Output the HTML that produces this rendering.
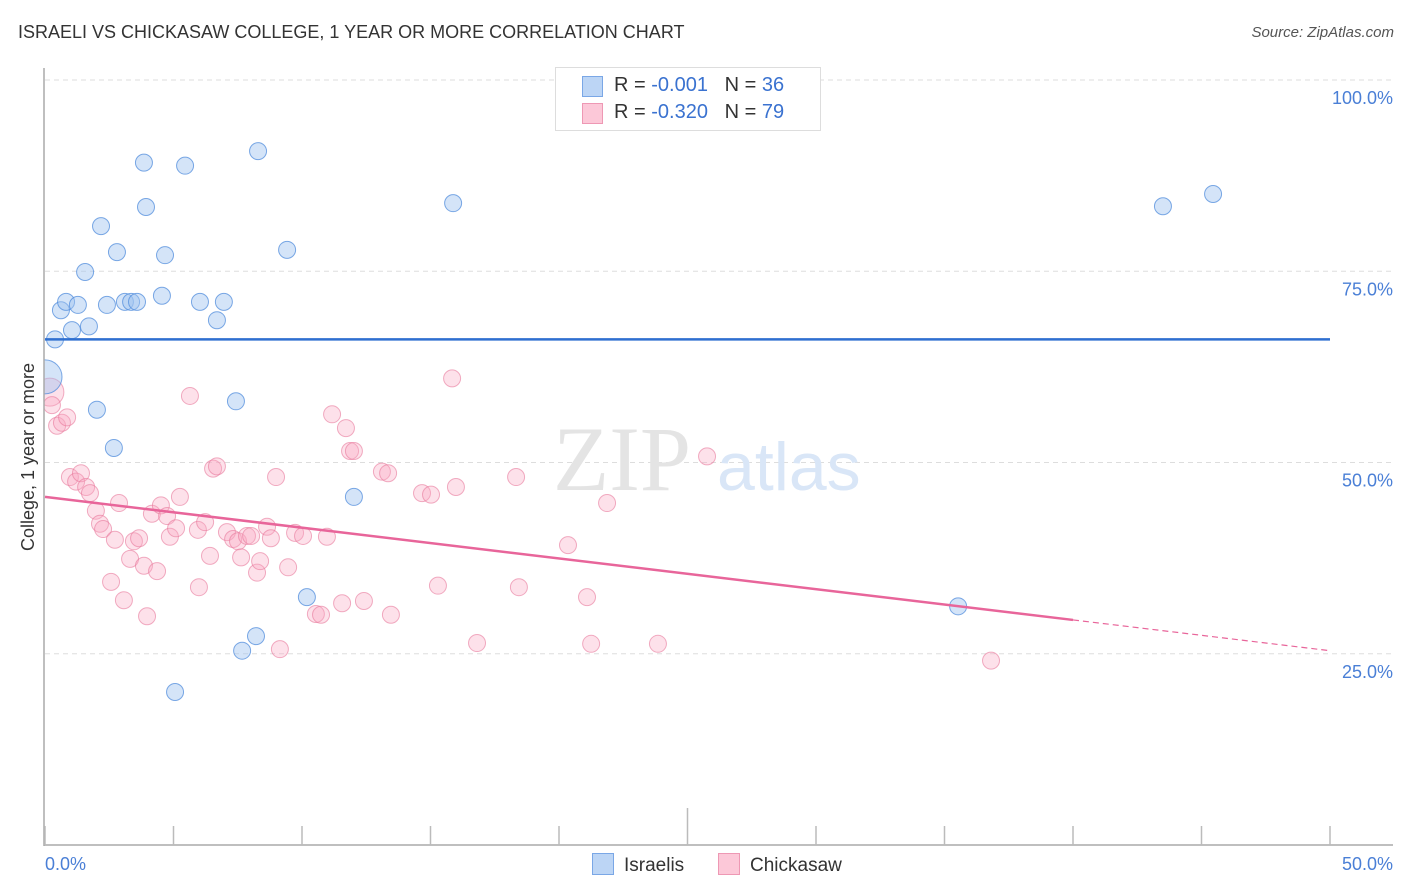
<!DOCTYPE html>
<html><head><meta charset="utf-8">
<style>
body{margin:0;background:#fff;font-family:"Liberation Sans",sans-serif;}
#wrap{position:relative;width:1406px;height:892px;overflow:hidden;}
.t{position:absolute;white-space:nowrap;}
</style></head>
<body>
<div id="wrap">
<div class="t" style="left:18px;top:22px;font-size:18px;color:#333;">ISRAELI VS CHICKASAW COLLEGE, 1 YEAR OR MORE CORRELATION CHART</div>
<div class="t" style="right:12px;top:24px;font-size:15px;color:#555;font-style:italic;">Source: ZipAtlas.com</div>
<svg id="svg" width="1406" height="892" style="position:absolute;left:0;top:0;"></svg>
</div>
<script>
const blueX=[0.39,0,0.62,0.82,1.05,1.28,1.56,1.71,2.02,2.18,2.41,2.68,2.80,3.11,3.35,3.58,3.85,3.93,4.55,4.67,5.06,5.45,6.03,6.69,6.96,7.43,7.67,8.21,8.29,9.42,10.19,12.02,15.88,35.53,43.50,45.45];
const blueY=[66.1,61.2,69.9,71.0,67.3,70.6,74.9,67.8,56.9,80.9,70.6,51.9,77.5,71.0,71.0,71.0,89.2,83.4,71.8,77.1,20.0,88.8,71.0,68.6,71.0,58.0,25.4,27.3,90.7,77.8,32.4,45.5,83.9,31.2,83.5,85.1];
const pinkX=[0.19,0.27,0.47,0.66,0.86,0.97,1.21,1.40,1.60,1.75,1.98,2.14,2.26,2.57,2.72,2.88,3.07,3.31,3.46,3.66,3.85,3.97,4.16,4.36,4.51,4.75,4.86,5.10,5.25,5.99,5.64,5.95,6.23,6.42,6.54,6.69,7.08,7.32,7.51,7.63,7.86,8.02,8.25,8.37,8.64,8.79,8.99,9.14,9.46,9.73,10.04,10.54,10.74,10.97,11.17,11.56,11.71,11.87,12.02,12.41,13.11,13.35,13.46,14.67,15.02,15.29,15.84,15.99,16.81,18.33,18.44,20.35,21.09,21.25,21.87,23.85,25.76,36.81];
const pinkY=[59.2,57.5,54.8,55.2,55.9,48.1,47.5,48.6,46.8,46.0,43.7,42.0,41.3,34.4,39.9,44.7,32.0,37.4,39.7,40.1,36.5,29.9,43.3,35.8,44.4,43.0,40.3,41.4,45.5,33.7,58.7,41.2,42.2,37.8,49.2,49.5,40.9,40.0,39.7,37.6,40.4,40.4,35.6,37.1,41.6,40.1,48.1,25.6,36.3,40.8,40.4,30.2,30.1,40.3,56.3,31.6,54.5,51.5,51.5,31.9,48.8,48.6,30.1,46.0,45.8,33.9,61.0,46.8,26.4,48.1,33.7,39.2,32.4,26.3,44.7,26.3,50.8,24.1];
const yTicks=[100,75,50,25];
const yTickLabels=["100.0%","75.0%","50.0%","25.0%"];
const xTickLabels=["0.0%","50.0%"];
const blueTrend=[66.1,66.1];
const pinkTrend=[45.5,25.4];

const NS="http://www.w3.org/2000/svg";
const svg=document.getElementById('svg');
const X=v=>45+v*25.7;
const Y=v=>845-v*7.65;
function el(t,a){const e=document.createElementNS(NS,t);for(const k in a)e.setAttribute(k,a[k]);svg.appendChild(e);return e;}

yTicks.forEach((v,i)=>{
  const g=el('line',{x1:45,x2:1393,y1:Y(v),y2:Y(v),stroke:'#ddd','stroke-dasharray':'5,4'});
  
  
  const t=el('text',{x:1393,y:Y(v)+24,'text-anchor':'end','font-size':18,fill:'#4a7fd6','font-family':'Liberation Sans'});
  t.textContent=yTickLabels[i];
  
  
});
const wm=el('text',{x:553,y:490,'font-size':92,fill:'#e4e4e4','font-family':'Liberation Serif'});wm.textContent='ZIP';


const wm2=el('text',{x:717,y:490,'font-size':68,fill:'#d9e6f7','font-family':'Liberation Sans'});wm2.textContent='atlas';



pinkX.forEach((x,i)=>{
  const c=el('circle',{cx:X(x),cy:Y(pinkY[i]),r:i==0?14:8.5,fill:'rgba(248,170,195,0.35)',stroke:'rgba(232,120,155,0.6)','stroke-width':1});
  
  
});
blueX.forEach((x,i)=>{
  const c=el('circle',{cx:X(x),cy:Y(blueY[i]),r:i==1?17:8.5,fill:'rgba(160,195,240,0.45)',stroke:'rgba(80,140,220,0.75)','stroke-width':1});
  
  
});
const mask=el('rect',{x:0,y:60,width:44,height:800,fill:'#fff'});


const bl=el('line',{x1:X(0),x2:X(50),y1:Y(blueTrend[0]),y2:Y(blueTrend[1]),stroke:'#2f6fd0','stroke-width':2.5});


const pm=(pinkTrend[1]-pinkTrend[0])/50;
const pl=el('line',{x1:X(0),x2:X(40),y1:Y(pinkTrend[0]),y2:Y(pinkTrend[0]+pm*40),stroke:'#e8659a','stroke-width':2.5});


const pd=el('line',{x1:X(40),x2:X(50),y1:Y(pinkTrend[0]+pm*40),y2:Y(pinkTrend[1]),stroke:'#e8659a','stroke-width':1.2,'stroke-dasharray':'6,4'});



const ya=el('line',{x1:44,x2:44,y1:68,y2:846,stroke:'#aaa','stroke-width':1.5});


const xa=el('line',{x1:44,x2:1393,y1:845,y2:845,stroke:'#aaa','stroke-width':1.5});


for(let i=0;i<=10;i++){
  const tk=el('line',{x1:X(i*5),x2:X(i*5),y1:i==5?808:826,y2:845,stroke:'#bbb','stroke-width':1.5});
  
  
}
[[0,'start',45],[1,'end',1393]].forEach(([i,a,x])=>{
  const t=el('text',{x:x,y:870,'text-anchor':a,'font-size':18,fill:'#4a7fd6','font-family':'Liberation Sans'});
  t.textContent=xTickLabels[i];
  
  
});
const yt=el('text',{transform:'translate(34,457) rotate(-90)','text-anchor':'middle','font-size':18,fill:'#333','font-family':'Liberation Sans'});
yt.textContent='College, 1 year or more';


</script>
<div class="t" style="left:555px;top:67px;width:264px;height:62px;border:1px solid #ddd;background:#fff;font-size:20px;">
  <div style="position:absolute;left:26px;top:8px;width:19px;height:19px;background:#bcd5f5;border:1px solid #7aa7e6;"></div>
  <div style="position:absolute;left:58px;top:6px;color:#333;">R = <span style="color:#3a72d0">-0.001</span>&nbsp;&nbsp;&nbsp;N = <span style="color:#3a72d0">36</span></div>
  <div style="position:absolute;left:26px;top:35px;width:19px;height:19px;background:#fcc8d8;border:1px solid #ee98b4;"></div>
  <div style="position:absolute;left:58px;top:33px;color:#333;">R = <span style="color:#3a72d0">-0.320</span>&nbsp;&nbsp;&nbsp;N = <span style="color:#3a72d0">79</span></div>
</div>
<div class="t" style="left:592px;top:853px;font-size:19px;color:#333;">
  <span style="display:inline-block;width:20px;height:20px;background:#bcd5f5;border:1px solid #7aa7e6;vertical-align:-4px;margin-right:10px;"></span>Israelis</div>
<div class="t" style="left:718px;top:853px;font-size:19px;color:#333;">
  <span style="display:inline-block;width:20px;height:20px;background:#fcc8d8;border:1px solid #ee98b4;vertical-align:-4px;margin-right:10px;"></span>Chickasaw</div>
</body></html>
